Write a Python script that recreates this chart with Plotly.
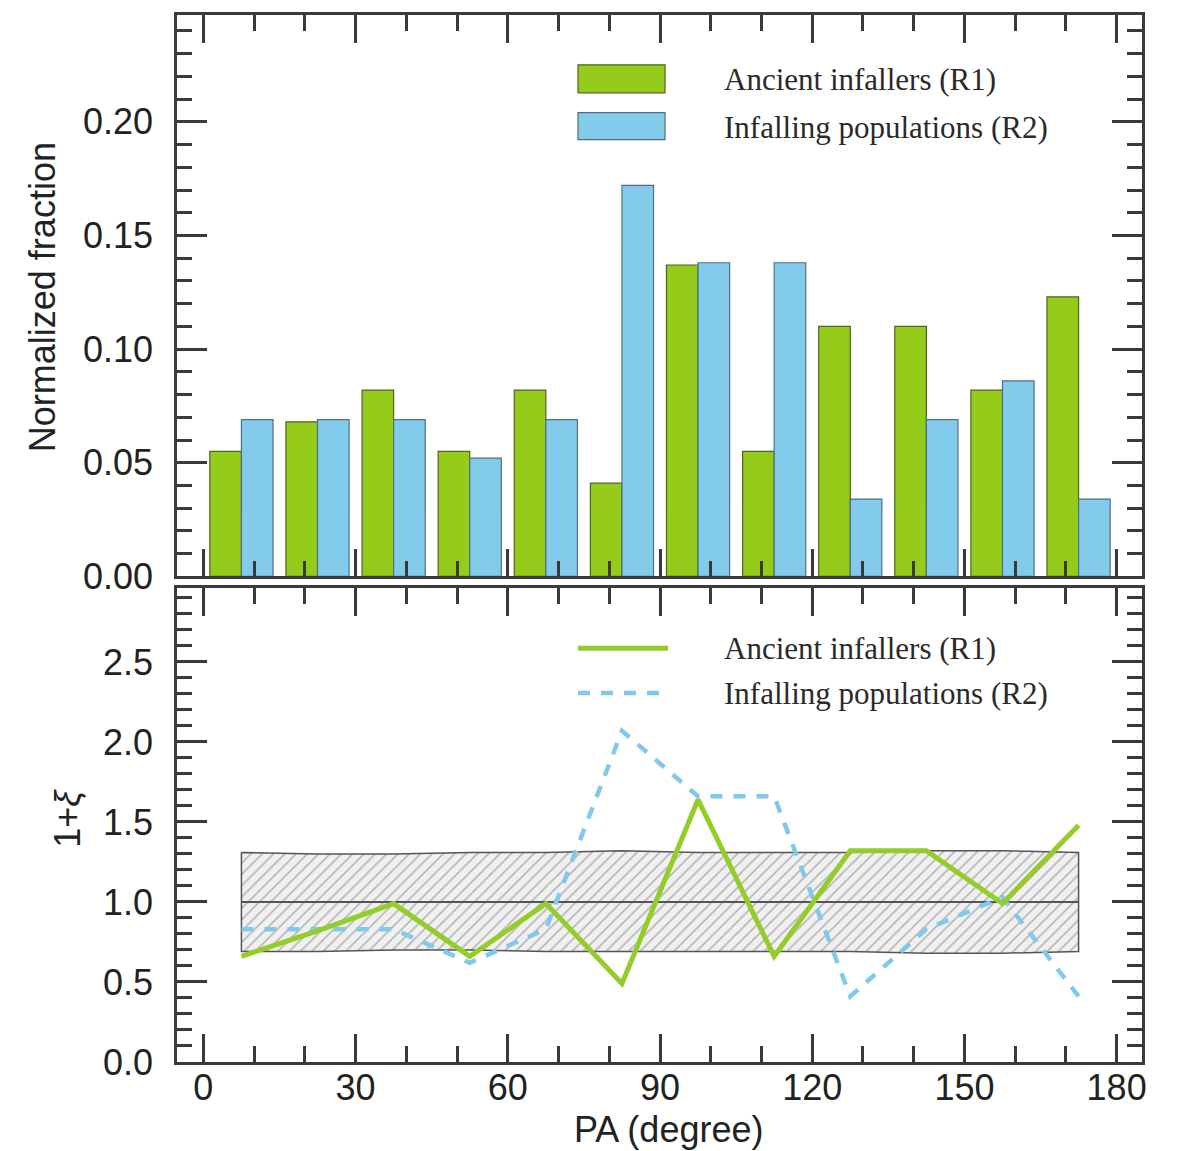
import plotly.graph_objects as go

# ---- data ----
pa_centers = [7.5, 22.5, 37.5, 52.5, 67.5, 82.5, 97.5, 112.5, 127.5, 142.5, 157.5, 172.5]
frac_r1 = [0.055, 0.068, 0.082, 0.055, 0.082, 0.041, 0.137, 0.055, 0.110, 0.110, 0.082, 0.123]
frac_r2 = [0.069, 0.069, 0.069, 0.052, 0.069, 0.172, 0.138, 0.138, 0.034, 0.069, 0.086, 0.034]
xi_r1 = [0.66, 0.82, 0.99, 0.66, 0.99, 0.49, 1.64, 0.66, 1.32, 1.32, 0.99, 1.48]
xi_r2 = [0.83, 0.83, 0.83, 0.62, 0.83, 2.07, 1.66, 1.66, 0.41, 0.83, 1.03, 0.41]
band_upper = [1.31, 1.30, 1.30, 1.31, 1.31, 1.32, 1.31, 1.31, 1.31, 1.32, 1.32, 1.31]
band_lower = [0.69, 0.69, 0.70, 0.70, 0.69, 0.69, 0.69, 0.69, 0.69, 0.68, 0.68, 0.69]
band_mid = [1.0] * 12
label_r1 = "Ancient infallers (R1)"
label_r2 = "Infalling populations (R2)"

GREEN = "#95CB1B"
BLUE = "#83CBEA"
GREEN_LINE = "#94CC2A"
BLUE_LINE = "#7FCAEB"
AX = "#3a3a3a"
SANS = "Liberation Sans, Arial, sans-serif"
SERIF = "Liberation Serif, Times New Roman, serif"

fig = go.Figure()

fig.add_trace(go.Bar(x=pa_centers, y=frac_r1, name=label_r1, marker=dict(color=GREEN, line=dict(color="#4f6420", width=1.2)),
                     xaxis="x", yaxis="y", showlegend=False))
fig.add_trace(go.Bar(x=pa_centers, y=frac_r2, name=label_r2, marker=dict(color=BLUE, line=dict(color="#4f6f80", width=1.2)),
                     xaxis="x", yaxis="y", showlegend=False))

# hatched band (closed polygon)
poly_x = pa_centers + pa_centers[::-1] + [pa_centers[0]]
poly_y = band_upper + band_lower[::-1] + [band_upper[0]]
fig.add_trace(go.Scatter(x=poly_x, y=poly_y, mode="lines", fill="toself",
                         fillcolor="rgba(240,240,240,1)",
                         fillpattern=dict(shape="/", fgcolor="#7a7a7a", bgcolor="#f0f0f0", size=8, solidity=0.2),
                         line=dict(color="#555555", width=1.5), xaxis="x2", yaxis="y2", showlegend=False, hoverinfo="skip"))
fig.add_trace(go.Scatter(x=pa_centers, y=band_mid, mode="lines", line=dict(color="#555555", width=2),
                         xaxis="x2", yaxis="y2", showlegend=False))

fig.add_trace(go.Scatter(x=pa_centers, y=xi_r2, mode="lines", name=label_r2,
                         line=dict(color=BLUE_LINE, width=4.5, dash="12px,11px"), xaxis="x2", yaxis="y2", showlegend=False))
fig.add_trace(go.Scatter(x=pa_centers, y=xi_r1, mode="lines", name=label_r1,
                         line=dict(color=GREEN_LINE, width=5), xaxis="x2", yaxis="y2", showlegend=False))

common_ax = dict(showline=True, linecolor=AX, linewidth=2.5, mirror="ticks", ticks="inside",
                 tickcolor=AX, tickwidth=2.5, showgrid=False, zeroline=False,
                 tickfont=dict(family=SANS, size=36, color="#222222"))

fig.update_layout(
    width=1184, height=1151,
    margin=dict(l=177, r=42, t=12, b=89),
    plot_bgcolor="white", paper_bgcolor="white",
    barmode="group", bargap=0.17, bargroupgap=0,
    xaxis=dict(domain=[0, 1], anchor="y", range=[-5.2, 185], dtick=30, tick0=0, ticklen=28,
               showticklabels=False, minor=dict(ticks="inside", dtick=10, tick0=0, ticklen=16, tickwidth=2.5, tickcolor=AX),
               **common_ax),
    xaxis2=dict(domain=[0, 1], anchor="y2", range=[-5.2, 185], dtick=30, tick0=0, ticklen=28,
                minor=dict(ticks="inside", dtick=10, tick0=0, ticklen=16, tickwidth=2.5, tickcolor=AX),
                ticklabelstandoff=-8, **common_ax),
    yaxis=dict(domain=[0.4638, 1], anchor="x", range=[0, 0.247], dtick=0.05, tick0=0, ticklen=30, tickformat=".2f",
               minor=dict(ticks="inside", dtick=0.01, tick0=0, ticklen=15, tickwidth=2.5, tickcolor=AX),
               ticklabelstandoff=14, **common_ax),
    yaxis2=dict(domain=[0, 0.4524], anchor="x2", range=[0, 2.96], dtick=0.5, tick0=0, ticklen=30, tickformat=".1f",
                minor=dict(ticks="inside", dtick=0.1, tick0=0, ticklen=15, tickwidth=2.5, tickcolor=AX),
                ticklabelstandoff=14, **common_ax),
)

def px(xp):
    return (xp - 177) / 965.0

def py(yp):
    return (1062 - yp) / 1050.0

shapes = [
    dict(type="rect", xref="paper", yref="paper", x0=px(578), x1=px(665), y0=py(90), y1=py(62),
         fillcolor=GREEN, line=dict(color="#4f6420", width=1.2)),
    dict(type="rect", xref="paper", yref="paper", x0=px(578), x1=px(665), y0=py(137), y1=py(110),
         fillcolor=BLUE, line=dict(color="#4f6f80", width=1.2)),
    dict(type="line", xref="paper", yref="paper", x0=px(578), x1=px(668), y0=py(647), y1=py(647),
         line=dict(color=GREEN_LINE, width=5)),
    dict(type="line", xref="paper", yref="paper", x0=px(578), x1=px(668), y0=py(692), y1=py(692),
         line=dict(color=BLUE_LINE, width=4.5, dash="12px,11px")),
]
fig.update_layout(shapes=shapes)

ann = []
for txt, yy in [(label_r1, 77), (label_r2, 125), (label_r1, 647), (label_r2, 692)]:
    ann.append(dict(text=txt, xref="paper", yref="paper", x=px(722), y=py(yy), xanchor="left", yanchor="middle",
                    showarrow=False, font=dict(family=SERIF, size=31, color="#2a2a2a")))
ann.append(dict(text="Normalized fraction", xref="paper", yref="paper", x=px(42), y=py(295), textangle=-90,
                xanchor="center", yanchor="middle", showarrow=False, font=dict(family=SANS, size=36, color="#222222")))
ann.append(dict(text="1+<i>ξ</i>", xref="paper", yref="paper", x=px(68), y=py(818), textangle=-90,
                xanchor="center", yanchor="middle", showarrow=False, font=dict(family=SANS, size=36, color="#222222")))
ann.append(dict(text="PA (degree)", xref="paper", yref="paper", x=px(668), y=py(1130),
                xanchor="center", yanchor="middle", showarrow=False, font=dict(family=SANS, size=36, color="#222222")))
fig.update_layout(annotations=ann)

fig.write_html("out.html")
